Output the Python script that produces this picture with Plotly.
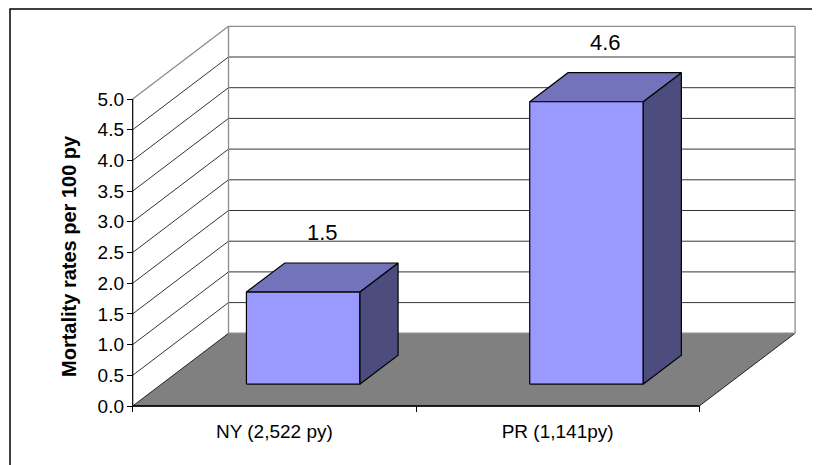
import plotly.graph_objects as go

#################################################################### DATA ####################################################################

categories = ["NY (2,522 py)", "PR (1,141py)"]
mortality = [1.5, 4.6]
value_labels = ["1.5", "4.6"]
y_ticks = [0.0, 0.5, 1.0, 1.5, 2.0, 2.5, 3.0, 3.5, 4.0, 4.5, 5.0]
y_max = 5.0

#################################################################### GEOMETRY ####################################################################

# the page body adds an 8px margin, so the figure is drawn 8px in from the window
OFF = 8

# pixel scale of the front plane and oblique depth offset (data units)
PX_X = 283.3
PX_Y = 61.4
ORIGIN_X = 132.7 - OFF
ORIGIN_Y = 406.0 - OFF
DX = 95.8 / PX_X
DY = 72.7 / PX_Y

W, H = 820 - OFF, 465 - OFF
M_L, M_B = 119, 53

FRONT = "#9999FF"
TOP = "#7373BB"
SIDE = "#4C4C7F"
FLOOR = "#808080"
EDGE = "#8C8C8C"
FONT = "Liberation Sans, Arial"


def proj(x, y, d):
    """Project (category x, value y, depth d in 0..1) onto the 2D plane."""
    return x + d * DX, y + d * DY


def poly(points, fill, line_color="black", width=1.2):
    xs, ys = zip(*[proj(*p) for p in points])
    return go.Scatter(x=list(xs) + [xs[0]], y=list(ys) + [ys[0]], mode="lines",
                      fill="toself", fillcolor=fill,
                      line=dict(color=line_color, width=width),
                      hoverinfo="skip", showlegend=False)


def seg(p0, p1, color="black", width=1):
    x0, y0 = proj(*p0)
    x1, y1 = proj(*p1)
    return go.Scatter(x=[x0, x1], y=[y0, y1], mode="lines",
                      line=dict(color=color, width=width),
                      hoverinfo="skip", showlegend=False)


n = len(categories)
fig = go.Figure()

# floor
fig.add_trace(poly([(0, 0, 0), (n, 0, 0), (n, 0, 1), (0, 0, 1)], FLOOR, "black", 0.8))

# walls: gridlines on left and back wall
for v in y_ticks[1:]:
    c = EDGE if v == y_max else "black"
    w = 1.3 if v == y_max else 0.8
    fig.add_trace(seg((0, v, 0), (0, v, 1), c, w))
    fig.add_trace(seg((0, v, 1), (n, v, 1), c, w))
fig.add_trace(seg((0, 0, 1), (0, y_max, 1), EDGE, 1.3))
fig.add_trace(seg((n, 0, 1), (n, y_max, 1), EDGE, 1.3))
fig.add_trace(seg((0, 0, 1), (n, 0, 1), EDGE, 1.3))

# axis lines
fig.add_trace(seg((0, 0, 0), (0, y_max, 0), "black", 1.2))
fig.add_trace(seg((0, 0, 0), (n, 0, 0), "black", 1.6))

# 3D bars
d0, d1 = 0.3, 0.7
for i, v in enumerate(mortality):
    x0, x1 = i + 0.3, i + 0.7
    fig.add_trace(poly([(x1, 0, d0), (x1, 0, d1), (x1, v, d1), (x1, v, d0)], SIDE))
    fig.add_trace(poly([(x0, v, d0), (x1, v, d0), (x1, v, d1), (x0, v, d1)], TOP))
    fig.add_trace(poly([(x0, 0, d0), (x1, 0, d0), (x1, v, d0), (x0, v, d0)], FRONT))

# value labels
for i, (v, t) in enumerate(zip(mortality, value_labels)):
    lx, ly = proj(i + 0.5, v, 0.5)
    fig.add_annotation(x=lx, y=ly, text=t, showarrow=False, yanchor="middle", yshift=45,
                       font=dict(family=FONT, size=22, color="black"))

# axis title
fig.add_annotation(text="<b>Mortality rates per 100 py</b>", textangle=-90,
                   xref="paper", x=(69 - OFF - M_L) / (W - M_L), xanchor="center",
                   yref="paper", y=(H - M_B - (256 - OFF)) / (H - M_B), yanchor="middle",
                   showarrow=False,
                   font=dict(family=FONT, size=20, color="black"))

# outer chart frame (top edge sits right at the figure's top)
fig.add_shape(type="rect", xref="paper", yref="paper",
              x0=(10 - OFF - M_L) / (W - M_L), x1=1.02,
              y0=-0.3, y1=(H - M_B - 1) / (H - M_B),
              line=dict(color="black", width=1.5), layer="above")

x_lo = (M_L - ORIGIN_X) / PX_X
x_hi = (W - ORIGIN_X) / PX_X
y_lo = -((H - M_B) - ORIGIN_Y) / PX_Y
y_hi = ORIGIN_Y / PX_Y

fig.update_xaxes(range=[x_lo, x_hi], showgrid=False, zeroline=False, showline=False,
                 tickvals=[i + 0.5 for i in range(n)], ticktext=categories, ticks="",
                 ticklabelstandoff=6,
                 minor=dict(tickvals=list(range(n + 1)), ticks="inside", ticklen=6,
                            tickcolor="black", tickwidth=1.2, showgrid=False),
                 tickfont=dict(family=FONT, size=19, color="black"))
fig.update_yaxes(range=[y_lo, y_hi], showgrid=False, zeroline=False, showline=False,
                 tickvals=y_ticks, ticktext=[f"{t:.1f}" for t in y_ticks],
                 ticks="inside", ticklen=6, tickcolor="black", tickwidth=1.2,
                 ticklabelstandoff=2,
                 tickfont=dict(family=FONT, size=19, color="black"))

fig.update_layout(width=W, height=H, margin=dict(l=M_L, r=0, t=0, b=M_B),
                  plot_bgcolor="white", paper_bgcolor="white", showlegend=False)

fig.write_html("out.html")
